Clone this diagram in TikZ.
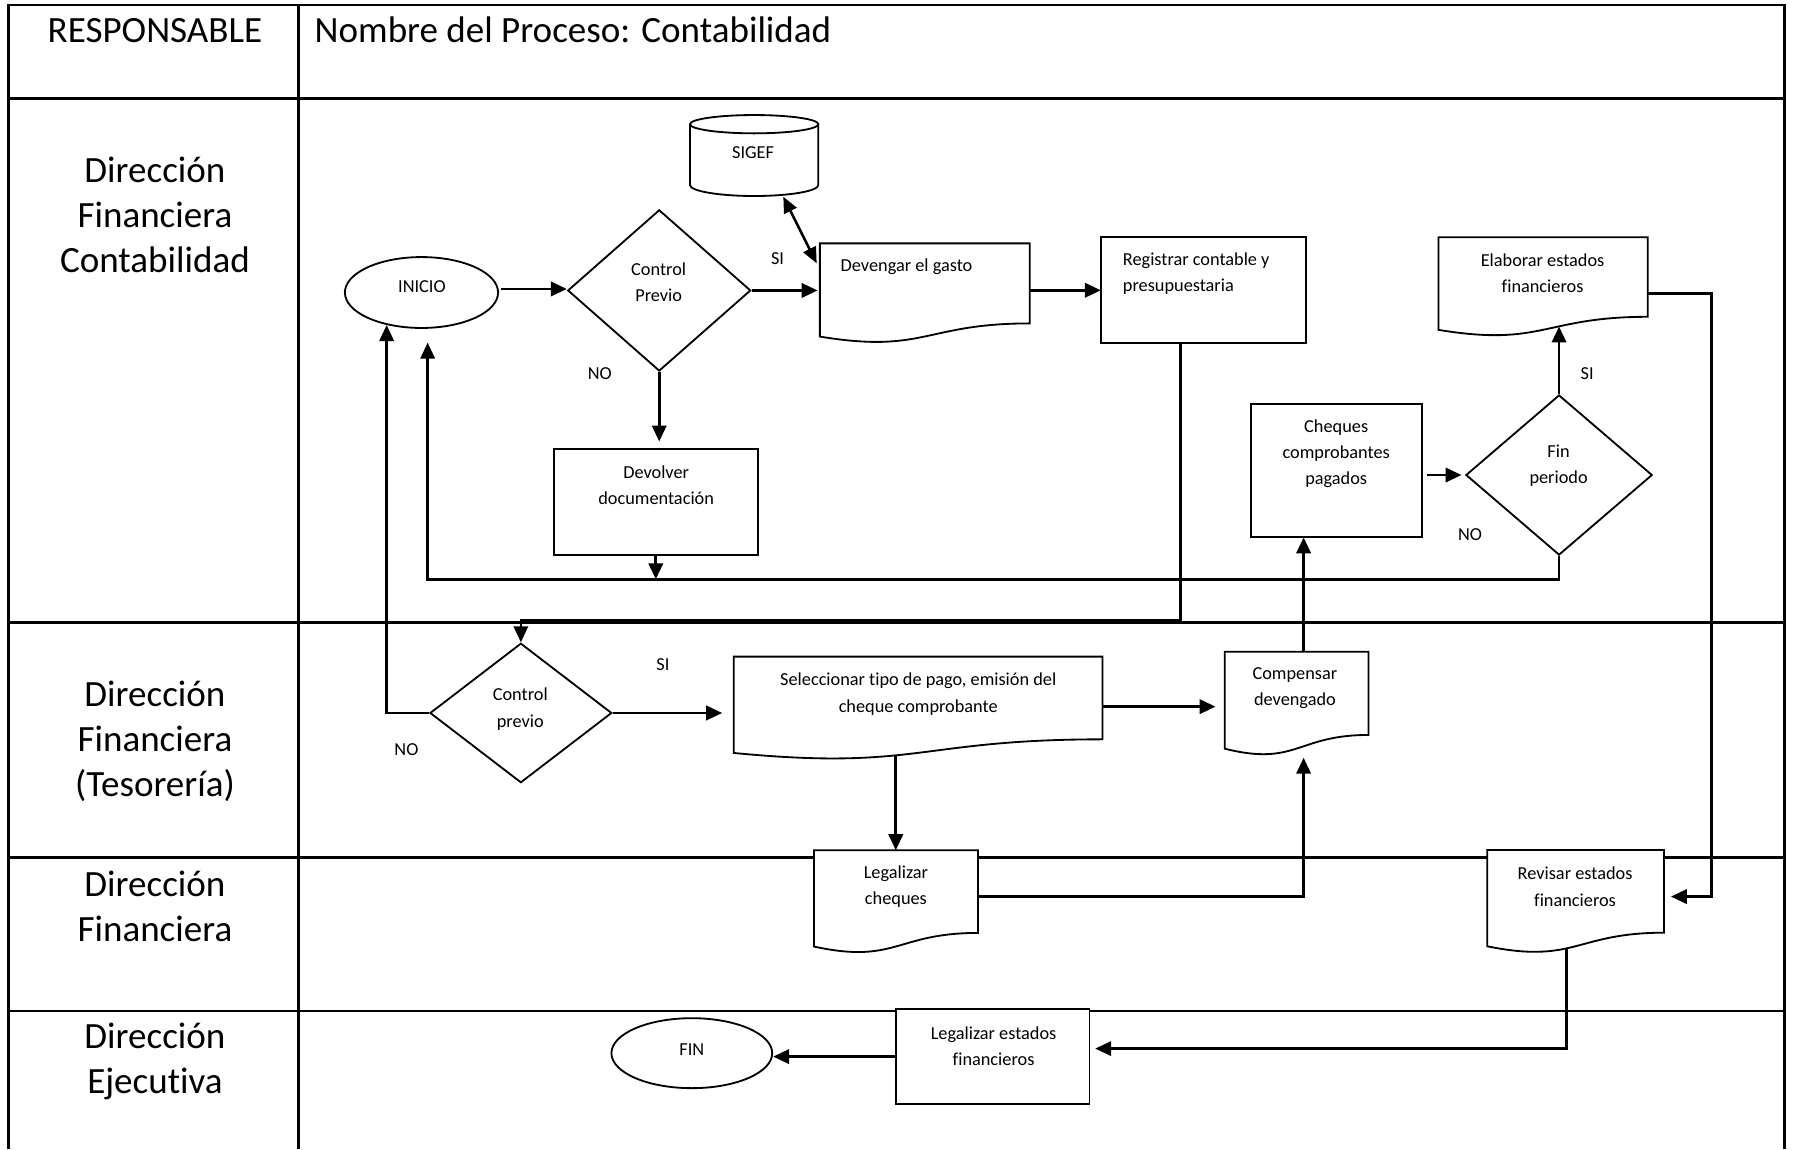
\documentclass[tikz,border=0pt]{standalone}
\usepackage{fontspec}
\setmainfont{Carlito}[Ligatures=NoCommon]
\usetikzlibrary{shapes.geometric,arrows.meta,calc}
\newcommand\docshape[6]{%
  \draw[shp] (#2,#3) -- (#4,#3) -- (#4,{#3+0.802*#5})
    .. controls ({(#2+#4)/2},{#3+0.802*#5}) and ({(#2+#4)/2},{#3+1.1075*#5}) ..
    (#2,{#3+0.934*#5}) coordinate[pos=#6] (#1-b) -- cycle;
  \node[box,minimum width={(#4-#2)*1pt},minimum height={0.802*#5*1pt},anchor=north west] (#1) at (#2,#3) {};
}
\begin{document}
\begin{tikzpicture}[x=1pt,y=-1pt,
  tbl/.style={line width=2.3pt},
  shp/.style={draw,line width=1.6pt,fill=white},
  box/.style={rectangle,inner sep=0pt,outer sep=0pt},
  tip/.style={-{Triangle[length=14pt,width=12.5pt]}},
  conn/.style={line width=2.5pt,tip},
  lnarrow/.style={line width=2.2pt,tip},
  bigt/.style={font=\fontsize{32.4}{39.4}\selectfont,inner sep=0pt,align=center},
  smt/.style={font=\fontsize{16}{23}\selectfont,inner sep=0pt,align=center},
  lbl/.style={font=\fontsize{16}{19}\selectfont,inner sep=0pt}]
\useasboundingbox (0,0) rectangle (1568,1005);
\fill[white] (0,0) rectangle (1568,1005);
% table
\draw[tbl] (7.5,1005) -- (7.5,4.5) -- (1560.5,4.5) -- (1560.5,1005);
\draw[tbl] (261,4.5) -- (261,1005);
\draw[tbl] (7.5,86.3) -- (1560.5,86.3);
\draw[tbl] (7.5,544.5) -- (1560.5,544.5);
\draw[tbl] (7.5,750) -- (1560.5,750);
\draw[tbl] (7.5,884) -- (1560.5,884);
% headers and lanes
\node[bigt,anchor=base] (hresp) at (135.5,37) {RESPONSABLE};
\node[bigt,anchor=base west] (hproc) at (275,37) {Nombre del Proceso: Contabilidad};
\node[bigt] (lane1) at (135.5,187.7) {Dirección\\Financiera\\Contabilidad};
\node[bigt] (lane2) at (135.5,648.2) {Dirección\\Financiera\\(Tesorería)};
\node[bigt] (lane3) at (135.5,792.6) {Dirección\\Financiera};
\node[bigt] (lane4) at (135.5,928.4) {Dirección\\Ejecutiva};
% SIGEF
\fill[white] (603.4,108.6) -- (603.4,161.8) arc[start angle=180,end angle=0,x radius=56.1,y radius=9.6] -- (715.6,108.6) -- cycle;
\draw[line width=1.6pt] (603.4,108.6) -- (603.4,161.8) arc[start angle=180,end angle=0,x radius=56.1,y radius=9.6] -- (715.6,108.6);
\draw[shp] (659.5,108.6) ellipse[x radius=56.1,y radius=8];
\node[box,minimum width=112pt,minimum height=72pt] (sigef) at (659.5,136) {};
\node[smt] (t-sigef) at (658.6,133.5) {SIGEF};
% shapes
\node[shp,ellipse,minimum width=134pt,minimum height=62pt,inner sep=0pt] (inicio) at (368.6,255.8) {};
\node[smt] (t-inicio) at (369,251) {INICIO};
\node[shp,diamond,minimum width=160pt,minimum height=141pt,inner sep=0pt] (cp1) at (576.5,254) {};
\node[smt] (t-cp1) at (576,246.7) {Control\\Previo};
\docshape{dev}{717}{212.8}{900.5}{87.3}{0.5}
\node[smt,anchor=west] (t-dev) at (735,233.2) {Devengar el gasto};
\node[shp,box,minimum width=179.7pt,minimum height=92.7pt,anchor=north west] (reg) at (962.7,207.5) {};
\node[smt,align=left,anchor=west] (t-reg) at (981.8,239) {Registrar contable y\\presupuestaria};
\docshape{elab}{1258}{207.5}{1441}{86.7}{0.403}
\node[smt] (t-elab) at (1349,239) {Elaborar estados\\financieros};
\node[shp,box,minimum width=178.2pt,minimum height=92.7pt,anchor=north west] (devol) at (484.4,392.6) {};
\node[smt] (t-devol) at (573.8,424.2) {Devolver\\documentación};
\node[shp,box,minimum width=150.1pt,minimum height=116.6pt,anchor=north west] (cheq) at (1093.7,353.3) {};
\node[smt] (t-cheq) at (1168.5,396.8) {Cheques\\comprobantes\\pagados};
\node[shp,diamond,minimum width=163pt,minimum height=140pt,inner sep=0pt] (finp) at (1363.4,415.4) {};
\node[smt] (t-finp) at (1363,407.5) {Fin\\periodo};
\node[shp,diamond,minimum width=159pt,minimum height=122pt,inner sep=0pt] (cp2) at (455.5,623.5) {};
\node[smt] (t-cp2) at (455,620) {Control\\previo};
\docshape{sel}{641.6}{574.2}{964.2}{90.2}{0.58}
\node[smt] (t-sel) at (803,607) {Seleccionar tipo de pago, emisión del\\cheque comprobante};
\docshape{comp}{1071}{569.9}{1196.7}{90.8}{0.435}
\node[smt] (t-comp) at (1132.4,601.5) {Compensar\\devengado};
\docshape{legc}{711.8}{743.5}{855.3}{90.2}{0.5}
\node[smt] (t-legc) at (783.5,775.4) {Legalizar\\cheques};
\docshape{rev}{1300.6}{743.3}{1455.2}{90.2}{0.567}
\node[smt] (t-rev) at (1377.4,775.4) {Revisar estados\\financieros};
\node[shp,box,minimum width=169.2pt,minimum height=82.8pt,anchor=north west] (lege) at (783.5,882.6) {};
\node[smt] (t-lege) at (868.9,914.7) {Legalizar estados\\financieros};
\node[shp,ellipse,minimum width=140.6pt,minimum height=61.2pt,inner sep=0pt] (fin) at (605,921) {};
\node[smt] (t-fin) at (605,917.6) {FIN};
% labels
\node[lbl] (si1) at (680,226) {SI};
\node[lbl] (no1) at (524.6,326.5) {NO};
\node[lbl] (si2) at (1388,326.5) {SI};
\node[lbl] (no2) at (1285.5,467.8) {NO};
\node[lbl] (si3) at (579.8,581.5) {SI};
\node[lbl] (no3) at (355.4,655.9) {NO};
% connectors
\coordinate (lp) at (374,506.6);
\draw[conn] ($(inicio.east |- cp1.west)+(2,-1.3)$) -- ($(cp1.west)+(0,-1.3)$);
\draw[conn] (cp1.east) -- ($(cp1.east -| dev.west)+(-2,0)$);
\draw[line width=2.2pt,{Triangle[length=14pt,width=12pt]}-{Triangle[length=14pt,width=12pt]}] ($(sigef.south)+(25.5,0)$) -- ($(dev.north west)+(-2.8,17.5)$);
\draw[conn] (reg.west -| dev.east) -- (reg.west);
\draw[conn] (cp1.south) -- ($(cp1.south |- devol.north)+(0,-6.5)$);
\draw[conn] (devol.south) -- (devol.south |- lp);
\draw[lnarrow] (finp.south) |- (lp) -- ($(lp |- inicio.south)+(0,12)$);
\draw[lnarrow] ($(reg.south)+(-20,0)$) |- ($(cp2.north)+(0,-19)$) -- (cp2.north);
\draw[lnarrow] (cp2.west) -| (inicio.223);
\draw[conn] (cp2.east) -- ($(cp2.east -| sel.west)+(-10,0)$);
\draw[conn] ($(sel.east)+(0,7.6)$) -- ($(sel.east -| comp.west)+(-8,7.6)$);
\draw[conn] (sel-b) -- (sel-b |- legc.north);
\draw[conn] ($(legc.east)+(0,4.4)$) -| ($(comp-b)+(0,10)$);
\draw[conn] (comp-b |- comp.north) -- (comp-b |- cheq.south);
\draw[conn] ($(cheq.east |- finp.west)+(4.4,0)$) -- ($(finp.west)+(-3,0)$);
\draw[conn] (finp.north) -- (finp.north |- elab-b);
\draw[conn] ($(elab.east)+(0,14.2)$) -- ++(55.4,0) |- ($(rev.east)+(6,4.6)$);
\draw[lnarrow] (rev-b) |- ($(lege.east)+(5,-7)$);
\draw[conn] (lege.west) -- (lege.west -| fin.east);
\end{tikzpicture}
\end{document}
